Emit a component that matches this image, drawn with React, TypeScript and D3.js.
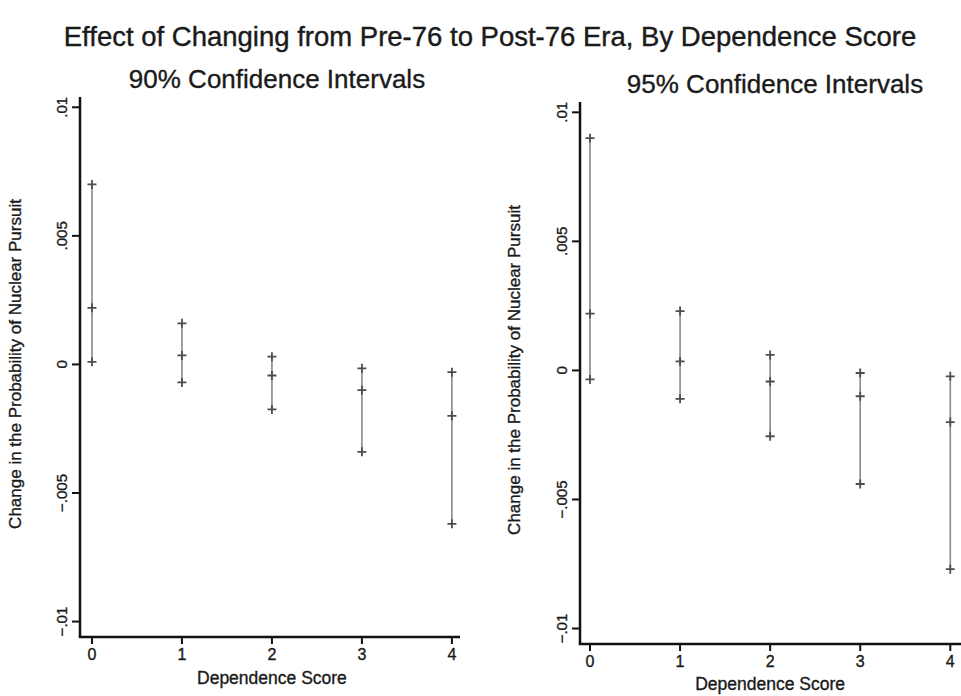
import React from 'react';
import * as d3 from 'd3';

// dependence score categories
const scores = [0, 1, 2, 3, 4];
// point estimates (same in both panels)
const estimates = [0.0022, 0.00035, -0.00043, -0.001, -0.002];
// 90% intervals
const lower90 = [0.0001, -0.0007, -0.00175, -0.0034, -0.0062];
const upper90 = [0.007, 0.0016, 0.0003, -0.00015, -0.0003];
// 95% intervals
const lower95 = [-0.00035, -0.0011, -0.00255, -0.0044, -0.0077];
const upper95 = [0.009, 0.0023, 0.0006, -0.0001, -0.00023];

const yTicks = [-0.01, -0.005, 0, 0.005, 0.01];
const yTickLabels = ['\u2212.01', '\u2212.005', '0', '.005', '.01'];
const xTickLabels = ['0', '1', '2', '3', '4'];

const mainTitle = 'Effect of Changing from Pre-76 to Post-76 Era, By Dependence Score';
const yTitle = 'Change in the Probability of Nuclear Pursuit';
const xTitle = 'Dependence Score';

const FONT = '"Liberation Sans", Arial, Helvetica, sans-serif';
const INK = '#1a1a1a';

const panels = [
  {
    title: '90% Confidence Intervals', lo: lower90, hi: upper90,
    xDom: [-0.133, 4.09], xRange: [80, 460],
    yRange: [637, 97], titleX: 277, titleY: 88,
    yTitleX: 21, yTitleY: 364, xTitleY: 684, xLabelY: 660,
  },
  {
    title: '95% Confidence Intervals', lo: lower95, hi: upper95,
    xDom: [-0.111, 4.13], xRange: [580, 962],
    yRange: [644, 102], titleX: 775, titleY: 93,
    yTitleX: 520, yTitleY: 370, xTitleY: 690, xLabelY: 667,
  },
];

const yDom = [-0.0106, 0.0104];

function Panel({ p }) {
  const x = d3.scaleLinear().domain(p.xDom).range(p.xRange);
  const y = d3.scaleLinear().domain(yDom).range(p.yRange);
  const [x0, x1] = p.xRange;
  const [yb, yt] = p.yRange;
  const mk = 4.5;

  return (
    <g fontFamily={FONT} fill={INK} stroke={INK} strokeWidth={0.35}>
      <text x={p.titleX} y={p.titleY} textAnchor="middle" fontSize={26}>{p.title}</text>

      {/* axes */}
      <line x1={x0} x2={x0} y1={yt} y2={yb} stroke="#111" strokeWidth={2.5} />
      <line x1={x0 - 1.2} x2={x1} y1={yb} y2={yb} stroke="#111" strokeWidth={2.5} />

      {yTicks.map((t, i) => (
        <g key={'yt' + i}>
          <line x1={x0 - 8} x2={x0} y1={y(t)} y2={y(t)} stroke="#111" strokeWidth={2} />
          <text transform={`translate(${x0 - 13},${y(t)}) rotate(-90)`} textAnchor="middle"
            fontSize={15}>{yTickLabels[i]}</text>
        </g>
      ))}
      {scores.map((s, i) => (
        <g key={'xt' + i}>
          <line x1={x(s)} x2={x(s)} y1={yb} y2={yb + 7} stroke="#111" strokeWidth={2} />
          <text x={x(s)} y={p.xLabelY} textAnchor="middle" fontSize={16}>{xTickLabels[i]}</text>
        </g>
      ))}

      <text transform={`translate(${p.yTitleX},${p.yTitleY}) rotate(-90)`} textAnchor="middle"
        fontSize={17}>{yTitle}</text>
      <text x={(x(0) + x(4)) / 2} y={p.xTitleY} textAnchor="middle" fontSize={17.5}>{xTitle}</text>

      {/* intervals */}
      {scores.map((s, i) => {
        const cx = x(s);
        return (
          <g key={'ci' + i}>
            <line x1={cx} x2={cx} y1={y(p.hi[i])} y2={y(p.lo[i])} stroke="#888" strokeWidth={1.6} />
            {[p.hi[i], estimates[i], p.lo[i]].map((v, j) => (
              <path key={j}
                d={`M${cx - mk},${y(v)}H${cx + mk}M${cx},${y(v) - mk}V${y(v) + mk}`}
                stroke="#4d4d4d" strokeWidth={1.8} fill="none" />
            ))}
          </g>
        );
      })}
    </g>
  );
}

export default function App() {
  return (
    <svg width={961} height={696} style={{ position: 'absolute', left: 0, top: 0, background: '#fff' }}>
      <rect width={961} height={696} fill="#fff" />
      <text x={490} y={46} textAnchor="middle" fontFamily={FONT} fontSize={27.5}
        fill={INK} stroke={INK} strokeWidth={0.4}>{mainTitle}</text>
      {panels.map((p, i) => <Panel key={i} p={p} />)}
    </svg>
  );
}
